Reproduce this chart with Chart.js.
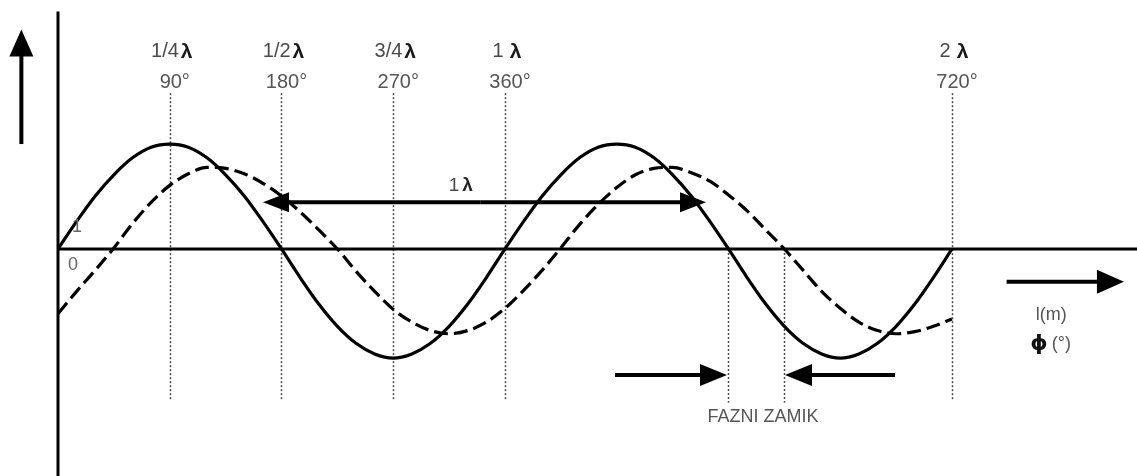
<!DOCTYPE html>
<html><head><meta charset="utf-8">
<script src="https://cdn.jsdelivr.net/npm/chart.js@4.4.1/dist/chart.umd.min.js"></script>
<style>html,body{margin:0;padding:0;background:#fff;}#wrap{width:1137px;height:476px;}</style>
</head><body><div id="wrap"><canvas id="c" width="1137" height="476"></canvas></div>
<script>
// phase in degrees (x) and wave values
const phaseDeg = [0,15,30,45,60,75,90,105,120,135,150,165,180,195,210,225,240,255,270,285,300,315,330,345,360,
  375,390,405,420,435,450,465,480,495,510,525,540,555,570,585,600,615,630,645,660,675,690,705,720];
const solidWave = [0,0.26,0.50,0.70,0.86,0.96,0.99,0.96,0.86,0.70,0.50,0.26,0,-0.27,-0.52,-0.73,-0.89,-0.99,-1.03,-0.99,-0.89,-0.73,-0.52,-0.27,0,
  0.26,0.50,0.70,0.86,0.96,0.99,0.96,0.86,0.70,0.50,0.26,0,-0.27,-0.52,-0.73,-0.89,-0.99,-1.03,-0.99,-0.89,-0.73,-0.52,-0.27,0];
const dashedWave = [-0.61,-0.40,-0.20,0.01,0.24,0.44,0.60,0.71,0.77,0.76,0.71,0.62,0.50,0.35,0.18,0.00,-0.21,-0.40,-0.57,-0.69,-0.77,-0.80,-0.77,-0.69,-0.56,
  -0.39,-0.20,0.01,0.23,0.42,0.58,0.70,0.76,0.77,0.72,0.64,0.51,0.36,0.18,0.00,-0.20,-0.40,-0.56,-0.69,-0.77,-0.80,-0.78,-0.73,-0.66];
// tick marks along the top
const guideDeg = [90,180,270,360,720];
const lambdaLabels = ['1/4','1/2','3/4','1','2'];
const degreeLabels = ['90°','180°','270°','360°','720°'];
// phase shift markers (zero crossings of the two waves)
const phaseShiftDeg = [540,585];

const FONT = '"Liberation Sans", Arial, sans-serif';

function arrow(ctx, x1, y1, x2, y2, len, half, w) {
  const a = Math.atan2(y2 - y1, x2 - x1);
  const bx = x2 - Math.cos(a) * len, by = y2 - Math.sin(a) * len;
  ctx.beginPath(); ctx.lineWidth = w; ctx.moveTo(x1, y1); ctx.lineTo(bx + Math.cos(a) * 2, by + Math.sin(a) * 2); ctx.stroke();
  ctx.beginPath();
  ctx.moveTo(x2, y2);
  ctx.lineTo(bx + Math.sin(a) * half, by - Math.cos(a) * half);
  ctx.lineTo(bx - Math.sin(a) * half, by + Math.cos(a) * half);
  ctx.closePath(); ctx.fill();
}

const decor = {
  id: 'decor',
  beforeDatasetsDraw(chart) {
    const ctx = chart.ctx, xs = chart.scales.x, ys = chart.scales.y;
    ctx.save();
    ctx.strokeStyle = '#4a4a4a'; ctx.lineWidth = 1.5; ctx.setLineDash([2, 2]);
    guideDeg.forEach(d => {
      const x = Math.round(xs.getPixelForValue(d)) + 0.5;
      ctx.beginPath(); ctx.moveTo(x, ys.getPixelForValue(1.47)); ctx.lineTo(x, ys.getPixelForValue(-1.43)); ctx.stroke();
    });
    phaseShiftDeg.forEach(d => {
      const x = Math.round(xs.getPixelForValue(d)) + 0.5;
      ctx.beginPath(); ctx.moveTo(x, ys.getPixelForValue(0)); ctx.lineTo(x, ys.getPixelForValue(-1.45)); ctx.stroke();
    });
    ctx.restore();
  },
  afterDatasetsDraw(chart) {
    const ctx = chart.ctx, xs = chart.scales.x, ys = chart.scales.y;
    const px = v => xs.getPixelForValue(v), py = v => ys.getPixelForValue(v);
    ctx.save();
    ctx.strokeStyle = '#000'; ctx.fillStyle = '#000'; ctx.lineCap = 'butt';
    // axes
    ctx.lineWidth = 3;
    ctx.beginPath(); ctx.moveTo(px(0), py(2.24)); ctx.lineTo(px(0), chart.height); ctx.stroke();
    ctx.beginPath(); ctx.moveTo(px(0), py(0)); ctx.lineTo(chart.width, py(0)); ctx.stroke();
    // vertical quantity arrow
    arrow(ctx, px(-29.5), py(0.99), px(-29.5), py(2.07), 27, 12, 4);
    // horizontal axis arrow
    arrow(ctx, px(764), py(-0.31), px(858.5), py(-0.31), 27, 12, 4);
    // 1 lambda double arrow
    arrow(ctx, px(340), py(0.44), px(521.9), py(0.44), 26, 10, 4);
    arrow(ctx, px(340), py(0.44), px(165.1), py(0.44), 26, 10, 4);
    // phase shift arrows
    arrow(ctx, px(448.6), py(-1.19), px(538.8), py(-1.19), 27, 11, 4);
    arrow(ctx, px(674.1), py(-1.19), px(585.5), py(-1.19), 27, 11, 4);

    // top labels
    ctx.textBaseline = 'middle';
    guideDeg.forEach((d, i) => {
      const cx = px(d);
      const num = lambdaLabels[i];
      ctx.font = '20px ' + FONT;
      const wn = ctx.measureText(num).width;
      ctx.font = 'bold 21px ' + FONT;
      const wl = ctx.measureText('λ').width;
      const gap = num.length === 1 ? 6 : 2;
      const start = cx + 2 - (wn + gap + wl) / 2;
      ctx.textAlign = 'left';
      ctx.font = '20px ' + FONT; ctx.fillStyle = '#4a4a4a';
      ctx.fillText(num, start, py(1.86));
      ctx.font = 'bold 21px ' + FONT; ctx.fillStyle = '#1a1a1a';
      ctx.fillText('λ', start + wn + gap, py(1.86));
      ctx.textAlign = 'center';
      ctx.font = '20px ' + FONT; ctx.fillStyle = '#555';
      ctx.fillText(degreeLabels[i], cx + 5, py(1.57));
    });
    // 1 lambda label on arrow
    ctx.textAlign = 'left';
    ctx.font = '19px ' + FONT; ctx.fillStyle = '#4a4a4a';
    const w1 = ctx.measureText('1').width;
    ctx.fillText('1', px(326) - 14, py(0.595));
    ctx.font = 'bold 19px ' + FONT; ctx.fillStyle = '#222';
    ctx.fillText('λ', px(326) - 14 + w1 + 3, py(0.595));
    // origin labels
    ctx.textAlign = 'center';
    ctx.font = '18px ' + FONT; ctx.fillStyle = '#666';
    ctx.fillText('1', px(15.3), py(0.21));
    ctx.fillText('0', px(12.1), py(-0.15));
    // axis unit labels
    ctx.font = '18px ' + FONT; ctx.fillStyle = '#555';
    ctx.fillText('l(m)', px(800), py(-0.62));
    ctx.textAlign = 'left';
    ctx.font = 'bold 22px "DejaVu Sans", sans-serif'; ctx.fillStyle = '#111';
    const xp = px(800) - 21;
    ctx.fillText('ϕ', xp, py(-0.9));
    const wp = ctx.measureText('ϕ').width;
    ctx.font = '18px ' + FONT; ctx.fillStyle = '#555';
    ctx.fillText('(°)', xp + wp + 4, py(-0.9));
    // phase shift caption
    ctx.textAlign = 'center';
    ctx.font = '18px ' + FONT; ctx.fillStyle = '#555';
    ctx.fillText('FAZNI ZAMIK', px(567.8), py(-1.585));
    ctx.restore();
  }
};

new Chart(document.getElementById('c'), {
  type: 'line',
  data: {
    datasets: [
      { data: phaseDeg.map((d, i) => ({ x: d, y: solidWave[i] })), borderColor: '#000', borderWidth: 3.2,
        pointRadius: 0, fill: false, cubicInterpolationMode: 'monotone' },
      { data: phaseDeg.map((d, i) => ({ x: d, y: dashedWave[i] })), borderColor: '#000', borderWidth: 3.2,
        borderDash: [14, 6], pointRadius: 0, fill: false, cubicInterpolationMode: 'monotone' }
    ]
  },
  options: {
    responsive: false, animation: false, devicePixelRatio: 1,
    layout: { padding: 0 },
    plugins: { legend: { display: false }, tooltip: { enabled: false } },
    scales: {
      x: { type: 'linear', min: -46.71, max: 869.0, display: false },
      y: { min: -2.142, max: 2.349, display: false }
    }
  },
  plugins: [decor]
});
</script></body></html>
